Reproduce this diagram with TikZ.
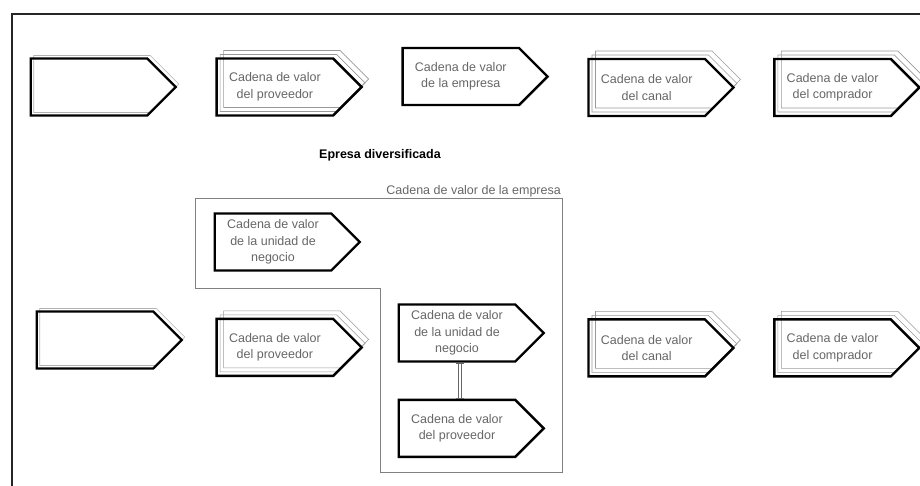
\documentclass[tikz,border=0pt]{standalone}
\usepackage{fontspec}
\setmainfont{Liberation Sans}
\usetikzlibrary{shapes.symbols, shadows, positioning, arrows.meta}
\tikzset{
	x=1pt, y=-1pt, % one unit per pixel, y runs downwards
	node distance=38pt, % gap between two links of a row
	eslabon/.style={signal, signal to=east, draw=black, line width=2.4pt, minimum width=145pt, minimum height=57pt, inner sep=0pt, align=center, text=black!60, font=\fontsize{12.5}{16.5}\selectfont}, % one link of the value chain
	sombra/.style={eslabon, copy shadow={shadow xshift=3pt, shadow yshift=3pt, draw=black!30, fill=none, opacity=1, line width=.6pt}}, % link with a faint shadow
	pila/.style={eslabon, copy shadow={shadow xshift=7pt, shadow yshift=8pt, draw=black!40, fill=none, opacity=1, line width=.6pt}, copy shadow={shadow xshift=3.5pt, shadow yshift=4pt, draw=black!40, fill=none, opacity=1, line width=.6pt}}, % stacked links
	marco/.style={draw=black!50, line width=.8pt}, % frame of the firm
	enlace/.style={draw=black!60, double=white, double distance=2.5pt, line width=.7pt, {Bar[width=8pt, line width=.7pt]}-{Bar[width=8pt, line width=.7pt]}}, % link between two units
}
\begin{document}
\begin{tikzpicture}
	\useasboundingbox (0,0) rectangle (920,485);
	\clip (0,0) rectangle (920,485);
	\draw[black!85, line width=1.4pt] (12,14) rectangle (940,500);
	% cadena de valor de una empresa sencilla
	\node[sombra] (vacio1) at (89,87) {};
	\node[pila, right=of vacio1] (prov1) {Cadena de valor\\del proveedor};
	\node[eslabon, right=of prov1, yshift=10.5pt] (empresa1) {Cadena de valor\\de la empresa};
	\node[pila, right=of empresa1, yshift=-11pt] (canal1) {Cadena de valor\\del canal};
	\node[pila, right=of canal1] (comp1) {Cadena de valor\\del comprador};
	% empresa diversificada
	\node[font=\bfseries\fontsize{12.5}{14}\selectfont] (titulo) at (380,155) {Epresa diversificada};
	\draw[marco] (195,198) -- (562,198) -- (562,472) -- (380,472) -- (380,288) -- (195,288) -- cycle;
	\node[anchor=south east, inner sep=1pt, text=black!60, font=\fontsize{12.5}{14}\selectfont] (etiqueta) at (562,198) {Cadena de valor de la empresa};
	\node[eslabon] (unidad1) at (273,242) {Cadena de valor\\de la unidad de\\negocio};
	\node[sombra] (vacio2) at (95,340) {};
	\node[pila, below=201pt of prov1] (prov2) {Cadena de valor\\del proveedor};
	\node[eslabon] (unidad2) at (457,333) {Cadena de valor\\de la unidad de\\negocio};
	\node[eslabon, below=36pt of unidad2] (provint) {Cadena de valor\\del proveedor};
	\node[pila, below=201pt of canal1] (canal2) {Cadena de valor\\del canal};
	\node[pila, below=201pt of comp1] (comp2) {Cadena de valor\\del comprador};
	\draw[enlace] ([xshift=3pt]unidad2.south) -- ([xshift=3pt]provint.north);
\end{tikzpicture}
\end{document}
